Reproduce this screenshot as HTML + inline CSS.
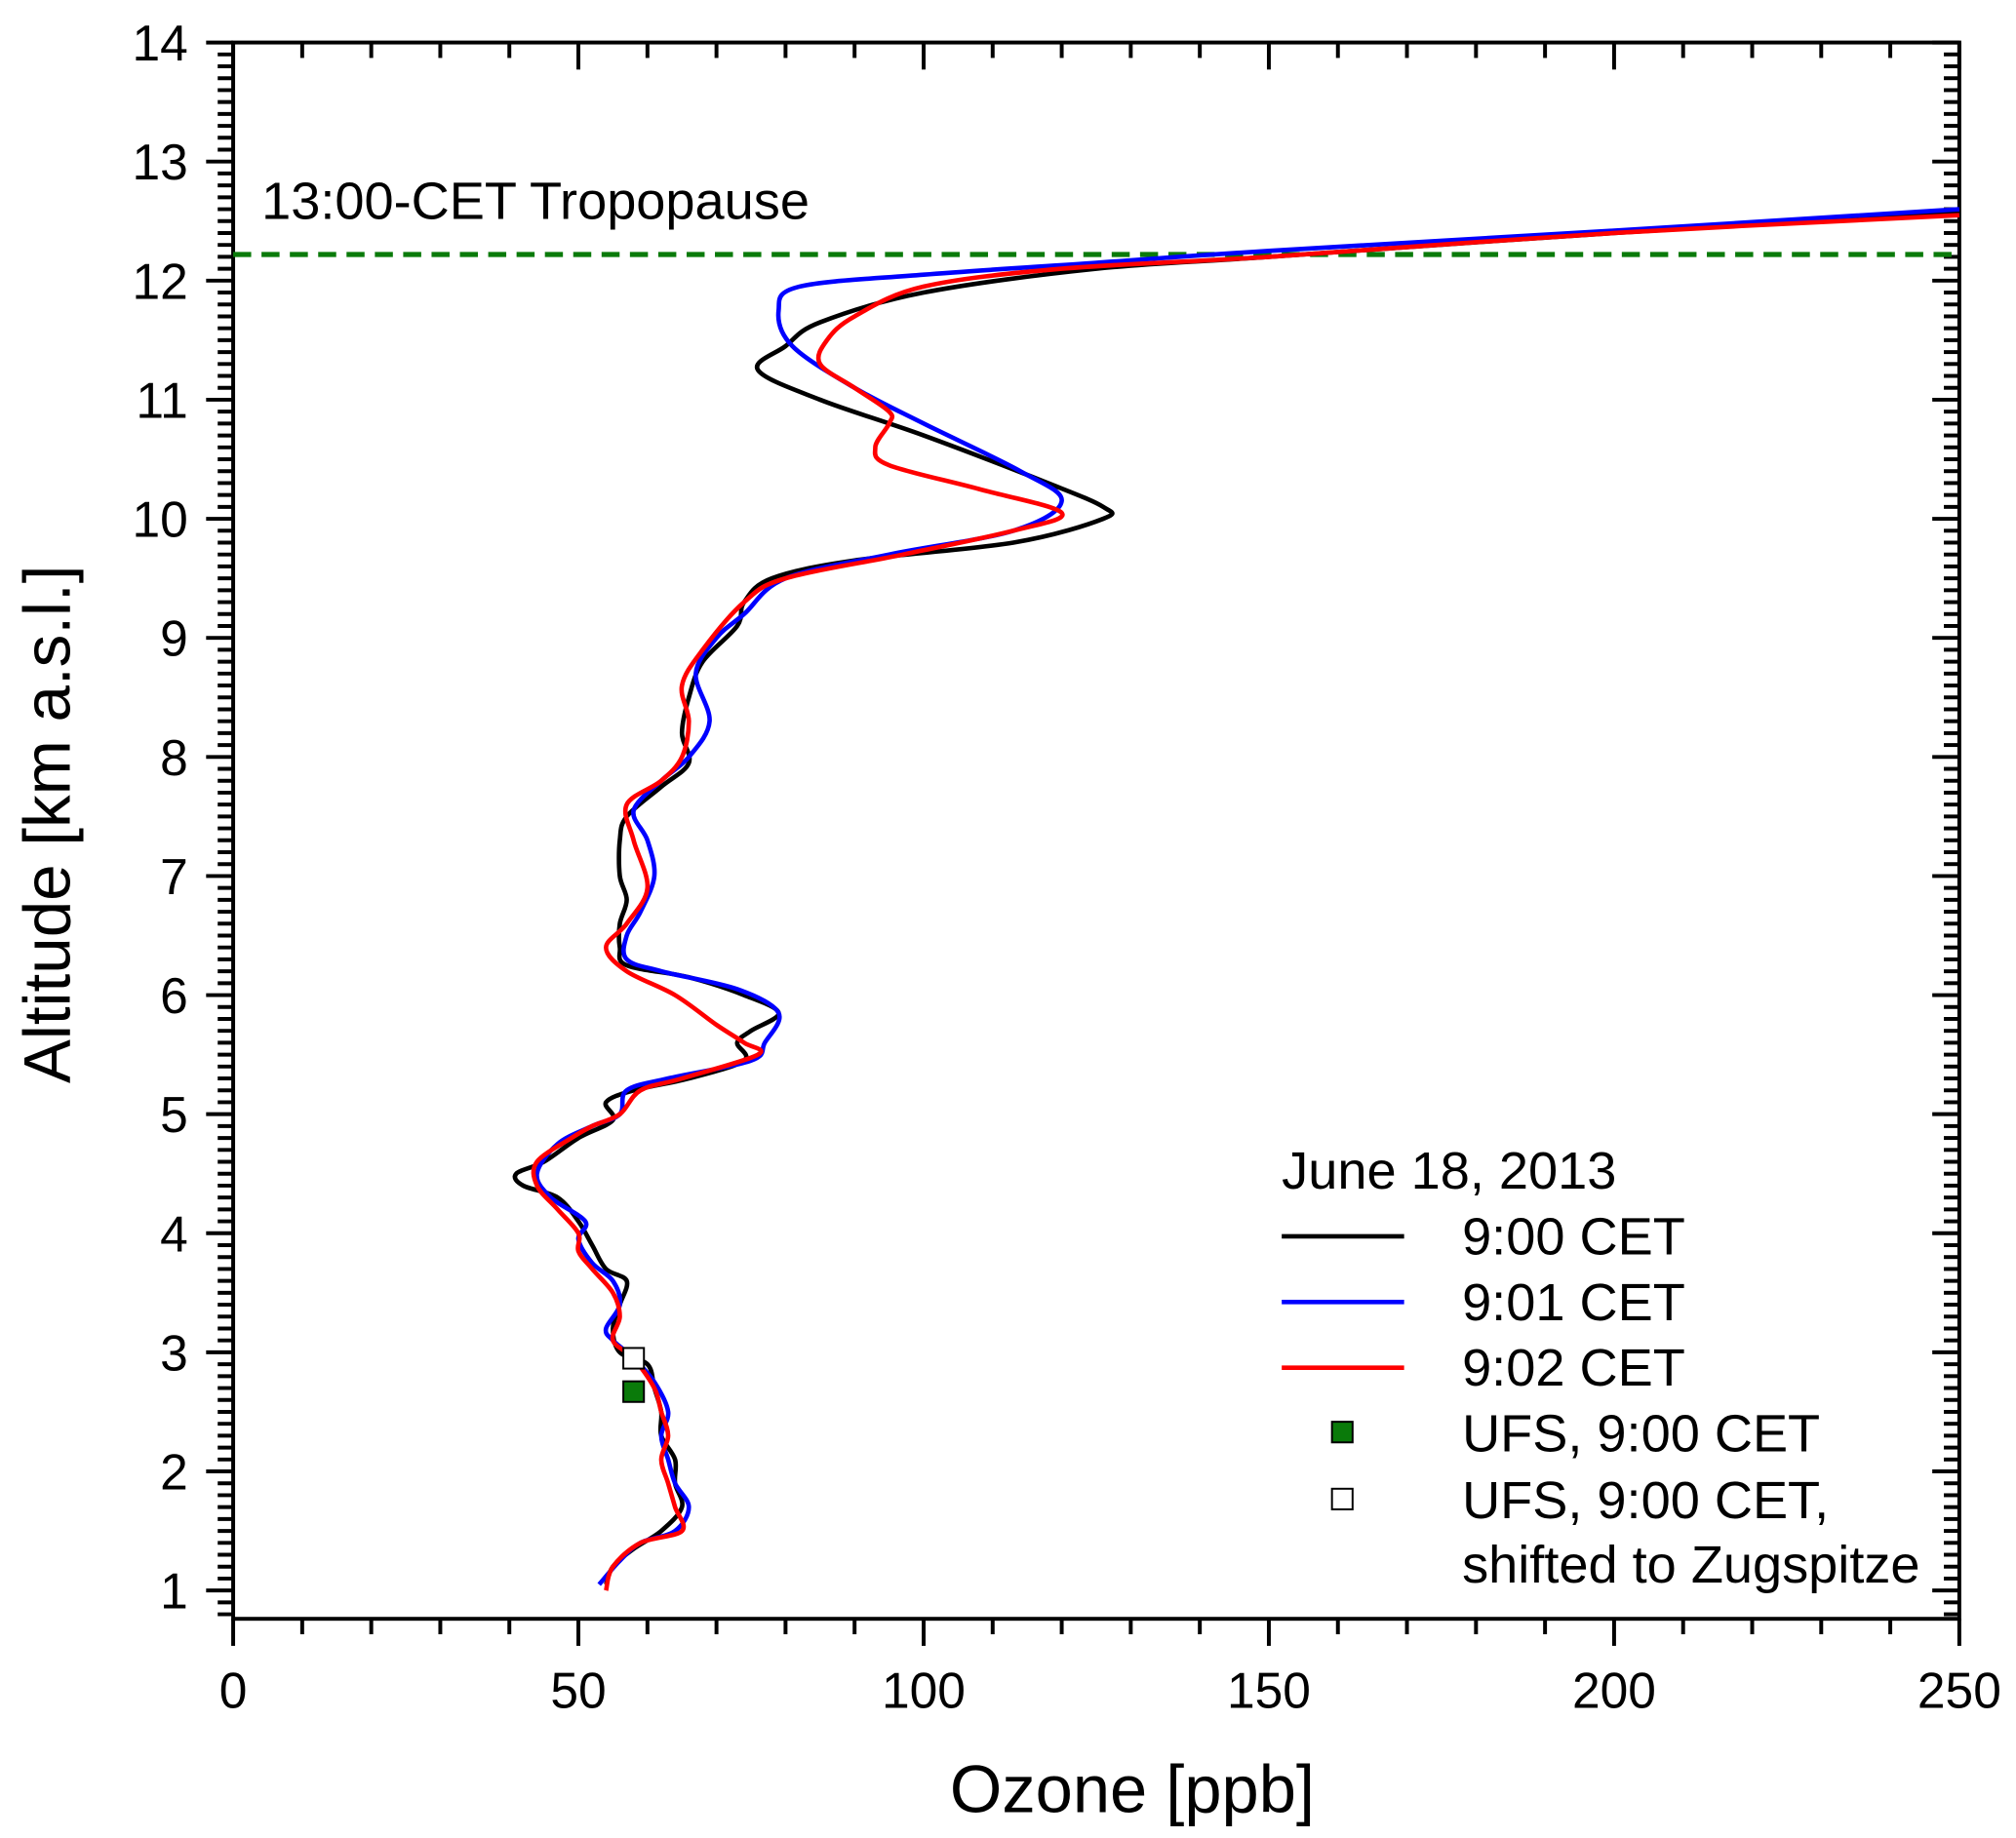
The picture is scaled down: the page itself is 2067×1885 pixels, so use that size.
<!DOCTYPE html>
<html><head><meta charset="utf-8"><style>
html,body{margin:0;padding:0;background:#fff;}
svg{display:block;font-family:"Liberation Sans",Arial,sans-serif;}
</style></head><body>
<svg id="chart" width="2067" height="1885" viewBox="0 0 1565 1427.2" xmlns="http://www.w3.org/2000/svg">
<g id="axes"></g>
<g id="series"></g>
<text x="203" y="170" font-size="41">13:00-CET Tropopause</text>
<text x="879" y="1407" font-size="52" text-anchor="middle">Ozone [ppb]</text>
<text transform="translate(54,640) rotate(-90)" font-size="51" text-anchor="middle">Altitude [km a.s.l.]</text>
<g font-size="41">
<text x="995" y="923">June 18, 2013</text>
<line x1="995" y1="960" x2="1090" y2="960" stroke="#000" stroke-width="3.5"/>
<text x="1135" y="974">9:00 CET</text>
<line x1="995" y1="1011" x2="1090" y2="1011" stroke="#00f" stroke-width="3.5"/>
<text x="1135" y="1025">9:01 CET</text>
<line x1="995" y1="1062" x2="1090" y2="1062" stroke="#f00" stroke-width="3.5"/>
<text x="1135" y="1076">9:02 CET</text>
<rect x="1034" y="1104" width="16" height="16" fill="#0a7a0a" stroke="#000" stroke-width="1.5"/>
<text x="1135" y="1127">UFS, 9:00 CET</text>
<rect x="1034" y="1156" width="16" height="16" fill="#fff" stroke="#000" stroke-width="1.5"/>
<text x="1135" y="1179">UFS, 9:00 CET,</text>
<text x="1135" y="1229">shifted to Zugspitze</text>
</g>
</svg>
<script>
const xTicks=[0,50,100,150,200,250];
const yTicks=[1,2,3,4,5,6,7,8,9,10,11,12,13,14];
const tropopause=12.22;
const black=[[54,1.05],[55,1.2],[58,1.35],[62,1.5],[65,1.7],[64,1.9],[64,2.1],[62,2.3],[62,2.5],[61,2.7],[60,2.9],[56,3.0],[55,3.2],[56,3.4],[57,3.6],[54,3.7],[52,3.9],[50,4.1],[47,4.3],[42,4.4],[41,4.5],[45,4.6],[50,4.8],[55,4.95],[54,5.1],[58,5.2],[66,5.3],[74,5.45],[73,5.6],[75,5.7],[79,5.85],[74,6.0],[66,6.15],[57,6.25],[56,6.4],[56,6.6],[57,6.8],[56,7.0],[56,7.3],[57,7.5],[62,7.75],[66,7.95],[65,8.2],[66,8.5],[68,8.8],[73,9.1],[74,9.3],[78,9.5],[90,9.65],[113,9.8],[126,10.0],[126,10.1],[118,10.3],[100,10.7],[85,11.0],[76,11.25],[80,11.45],[85,11.65],[100,11.9],[125,12.1],[150,12.2],[200,12.4],[250,12.57]];
const blue=[[53,1.05],[56,1.25],[59,1.4],[64,1.5],[66,1.7],[64,1.9],[63,2.1],[62,2.3],[63,2.5],[61,2.75],[58,2.95],[55,3.1],[54,3.2],[56,3.4],[55,3.6],[52,3.75],[50,3.95],[51,4.1],[46,4.3],[44,4.5],[47,4.75],[52,4.9],[56,5.0],[57,5.2],[63,5.3],[75,5.45],[77,5.6],[79,5.85],[73,6.05],[62,6.2],[57,6.3],[57,6.5],[59,6.7],[61,7.0],[60,7.3],[58,7.55],[62,7.8],[66,8.0],[69,8.3],[67,8.7],[70,9.0],[74,9.2],[80,9.5],[95,9.7],[113,9.9],[120,10.15],[114,10.4],[100,10.8],[90,11.1],[81,11.45],[79,11.75],[82,11.95],[100,12.05],[125,12.15],[150,12.25],[200,12.42],[250,12.6]];
const red=[[54,1.0],[55,1.2],[59,1.4],[65,1.5],[64,1.7],[63,1.9],[62,2.1],[63,2.3],[62,2.5],[61,2.7],[58,2.95],[55,3.1],[56,3.3],[55,3.5],[52,3.7],[50,3.85],[50,4.0],[47,4.2],[44,4.4],[44,4.6],[49,4.8],[52,4.9],[56,5.0],[59,5.2],[65,5.3],[76,5.5],[74,5.6],[70,5.75],[64,6.0],[57,6.2],[54,6.4],[57,6.6],[60,6.9],[58,7.3],[57,7.6],[62,7.8],[65,8.0],[66,8.3],[65,8.6],[68,8.9],[74,9.3],[80,9.5],[97,9.7],[113,9.9],[120,10.05],[108,10.25],[95,10.45],[93,10.6],[95,10.8],[95,10.9],[90,11.1],[85,11.3],[86,11.5],[90,11.7],[100,11.95],[120,12.1],[150,12.2],[200,12.4],[250,12.55]];
const ufs=[58,2.67];
const ufsShifted=[58,2.95];

const L=181,R=1521,T=33,B=1257;
const X=v=>L+(v-0)*(R-L)/250;
const Y=v=>1235-(v-1)*(1235-33)/13;
const NS='http://www.w3.org/2000/svg';
function mk(tag,attrs,parent){const e=document.createElementNS(NS,tag);for(const k in attrs)e.setAttribute(k,attrs[k]);parent.appendChild(e);return e;}
const ax=document.getElementById('axes');
const frame=mk('rect',{x:L,y:T,width:R-L,height:B-T,fill:'none',stroke:'#000','stroke-width':3},ax);


for(let v=0;v<=250;v+=10){const maj=v%50===0;const len=maj?21:12;
 const t1=mk('line',{x1:X(v),x2:X(v),y1:B,y2:B+len,stroke:'#000','stroke-width':3},ax);
 
 
 const t2=mk('line',{x1:X(v),x2:X(v),y1:T,y2:T+len,stroke:'#000','stroke-width':3},ax);
 
 }
xTicks.forEach(v=>{const t=mk('text',{x:X(v),y:1326,'font-size':39,'text-anchor':'middle'},ax);t.textContent=v;
 
 });
for(let i=8;i<=140;i++){const v=i/10;const y=Y(v);if(y>B+0.5)continue;const maj=i%10===0;const len=maj?21:12;
 const t1=mk('line',{x1:L-len,x2:L,y1:y,y2:y,stroke:'#000','stroke-width':3},ax);
 
 
 const t2=mk('line',{x1:R-len,x2:R,y1:y,y2:y,stroke:'#000','stroke-width':3},ax);
 
 }
yTicks.forEach(v=>{const t=mk('text',{x:146,y:Y(v)+14,'font-size':39,'text-anchor':'end'},ax);t.textContent=v;
 
 });
const sg=document.getElementById('series');
const tl=mk('line',{x1:L,x2:R,y1:Y(tropopause),y2:Y(tropopause),stroke:'#0a7a0a','stroke-width':4,'stroke-dasharray':'14 8'},sg);


function smooth(data){const p=data.map(d=>[X(d[0]),Y(d[1])]);let s='M'+p[0][0]+','+p[0][1];
 for(let i=0;i<p.length-1;i++){const p0=p[i-1]||p[i],p1=p[i],p2=p[i+1],p3=p[i+2]||p2;
  const c1=[p1[0]+(p2[0]-p0[0])/6,p1[1]+(p2[1]-p0[1])/6],c2=[p2[0]-(p3[0]-p1[0])/6,p2[1]-(p3[1]-p1[1])/6];
  s+=' C'+c1+' '+c2+' '+p2;}return s;}
[[black,'#000','series-900'],[blue,'#00f','series-901'],[red,'#f00','series-902']].forEach(([d,c,n])=>{
 const p=mk('path',{d:smooth(d),fill:'none',stroke:c,'stroke-width':3.5,'stroke-linejoin':'round'},sg);
 
 });
const m1=mk('rect',{x:X(ufs[0])-8,y:Y(ufs[1])-8,width:16,height:16,fill:'#0a7a0a',stroke:'#000','stroke-width':1.5},sg);


const m2=mk('rect',{x:X(ufsShifted[0])-8,y:Y(ufsShifted[1])-8,width:16,height:16,fill:'#fff',stroke:'#000','stroke-width':1.5},sg);


</script>
</body></html>
